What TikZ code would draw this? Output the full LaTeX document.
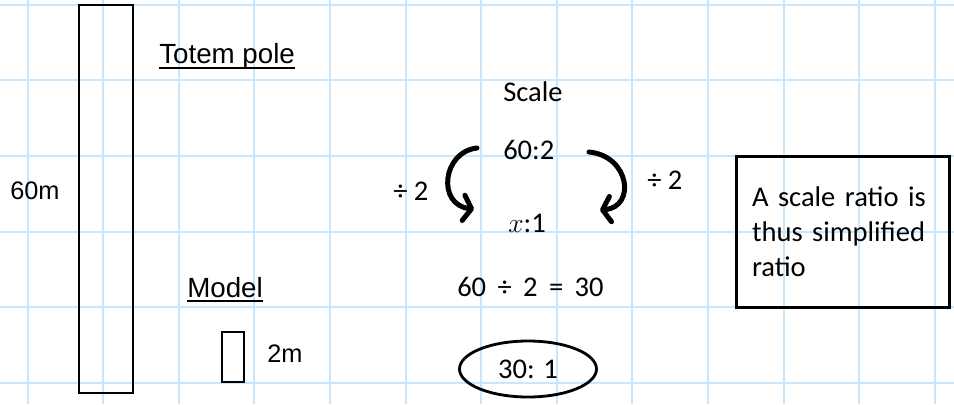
\documentclass[tikz,border=0pt]{standalone}
\usepackage{fontspec}
\setmainfont{Carlito}
\newfontfamily\arialfont{Liberation Sans}
\usetikzlibrary{arrows.meta,shapes.geometric}
\definecolor{gridblue}{RGB}{200,230,252}
\begin{document}
\begin{tikzpicture}[
  x=0.75pt, y=-0.75pt,
  gridline/.style={draw=gridblue, line width=1.5pt},
  lbl/.style={anchor=base west, inner sep=0pt, font=\fontsize{21.4}{25}\selectfont},
  head/.style={anchor=base west, inner sep=0pt, font=\arialfont\fontsize{20.8}{24}\selectfont},
  size/.style={anchor=base west, inner sep=0pt, font=\arialfont\fontsize{19}{23}\selectfont},
  uline/.style={line width=1.5pt},
  pole/.style={draw, line width=1.5pt},
  turn/.style={line width=3.75pt, line cap=round, -{Straight Barb[length=6pt,width=19pt,round]}},
  note/.style={draw, line width=2.25pt, text width=135.75pt, inner xsep=12pt,
               minimum height=113.25pt, align=left, font=\fontsize{21.4}{26.25}\selectfont},
  oval/.style={draw, ellipse, line width=2.1pt, inner sep=0pt, minimum width=102.75pt,
               minimum height=42pt, font=\fontsize{21.4}{25}\selectfont}
]
\fill[white] (0,0) rectangle (954,404);
\useasboundingbox (0,0) rectangle (954,404);
\foreach \i in {0,...,12}
  \draw[gridline] ({27.5+75.6*\i},0) -- ({27.5+75.6*\i},404);
\foreach \j in {0,...,5}
  \draw[gridline] (0,{4.8+75.6*\j}) -- (954,{4.8+75.6*\j});

\draw[pole] (79,5) rectangle (133,393);
\draw[pole] (222,332) rectangle (244,382);

\node[head] (totem) at (159,63) {Totem pole};
\node[head] (model) at (187,297) {Model};
\draw[uline] ([yshift=-3.75pt]totem.base west) -- ([yshift=-3.75pt]totem.base east);
\draw[uline] ([yshift=-3pt]model.base west) -- ([yshift=-3pt]model.base east);
\node[size] (tall) at (10,199) {60m};
\node[size] (small) at (267,362) {2m};

\node[lbl] (scale) at (503,101) {Scale};
\node[lbl] (given) at (503,159) {60:2};
\node[lbl] (unit) at (508,232) {$x$:1};
\node[lbl] (divl) at (393,200) {÷ 2};
\node[lbl] (divr) at (647,189) {÷ 2};
\node[lbl] (calc) at (457,296) {60\hskip0.4em÷\hskip0.4em2\hskip0.4em=\hskip0.4em30};
\node[oval] (answer) at (528,369) {30: 1};

\coordinate (ls) at (477,148);
\coordinate (le) at (474,209);
\coordinate (rs) at (589,152);
\coordinate (re) at (600,210);
\draw[turn] (ls) .. controls (442,152) and (437,205) .. (le);
\draw[turn] (rs) .. controls (630,156) and (636,207) .. (re);

\node[note] (rule) at (842.5,231.5) {A scale ratio is\\thus simplified\\ratio};
\end{tikzpicture}
\end{document}
